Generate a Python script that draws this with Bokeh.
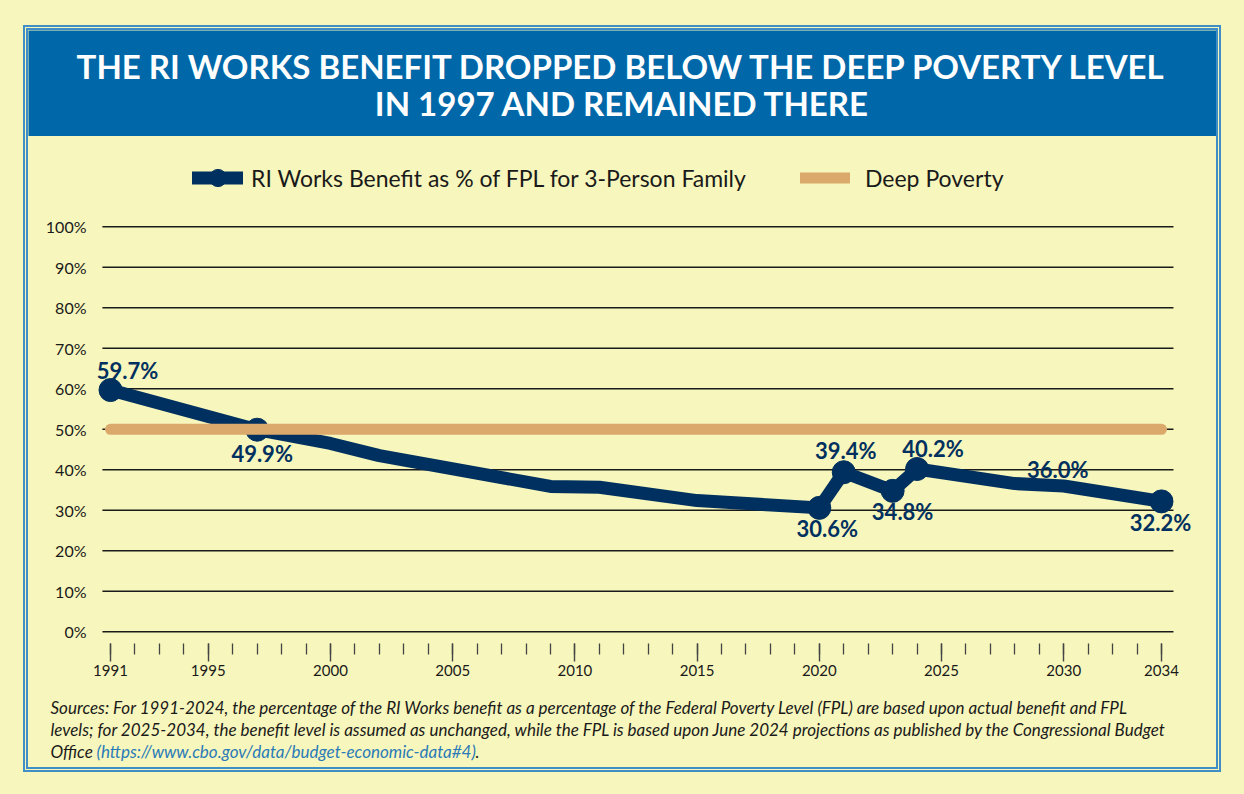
from bokeh.plotting import figure
from bokeh.models import (ColumnDataSource, Range1d, FixedTicker, Legend, LegendItem, LabelSet)
from bokeh.layouts import column
from bokeh.core.properties import value
from bokeh.embed import file_html
from bokeh.resources import INLINE

# ---------------- data ----------------
title_lines = ["THE RI WORKS BENEFIT DROPPED BELOW THE DEEP POVERTY LEVEL",
               "IN 1997 AND REMAINED THERE"]
series_name = "RI Works Benefit as % of FPL for 3-Person Family"
deep_name = "Deep Poverty"

years = [1991, 1997, 2000, 2002, 2009, 2011, 2015, 2020, 2021, 2023, 2024, 2028, 2030, 2034]
benefit = [59.7, 49.9, 46.5, 43.5, 35.9, 35.7, 32.4, 30.6, 39.4, 34.8, 40.2, 36.6, 36.0, 32.2]

marker_years = [1991, 1997, 2020, 2021, 2023, 2024, 2034]
label_years = [1991, 1997, 2020, 2021, 2023, 2024, 2030, 2034]

deep_years = [1991, 2034]
deep_values = [50.0, 50.0]

y_ticks = [0, 10, 20, 30, 40, 50, 60, 70, 80, 90, 100]
y_tick_labels = ["0%", "10%", "20%", "30%", "40%", "50%", "60%", "70%", "80%", "90%", "100%"]
x_major_ticks = [1991, 1995, 2000, 2005, 2010, 2015, 2020, 2025, 2030, 2034]
x_tick_labels = ["1991", "1995", "2000", "2005", "2010", "2015", "2020", "2025", "2030", "2034"]
x_minor_ticks = list(range(1991, 2035))

source_lines = [
    "Sources: For 1991-2024, the percentage of the RI Works benefit as a percentage of the Federal Poverty Level (FPL) are based upon actual benefit and FPL",
    "levels; for 2025-2034, the benefit level is assumed as unchanged, while the FPL is based upon June 2024 projections as published by the Congressional Budget",
    "Office",
]
source_link = "(https://www.cbo.gov/data/budget-economic-data#4)"

# label placement (screen px offsets, +up)
label_dx = [17, 5, 8, 2, 10, 16, -6, -1]
label_dy = [20, -24, -21, 22, -21, 20, 17, -21]

# ---------------- styles ----------------
BG = "#F7F6BC"
BAND = "#0068A8"
BORDER = "#3F8EC6"
NAVY = "#00305F"
TAN = "#DBA96B"
FONT = "Lato"

W = 1188
X_START, X_END = 1990.2635, 2035.432
Y_START, Y_END = -2.89, 122.3
GRID_X0, GRID_X1 = 1990.67, 2034.49   # horizontal extent of the grid lines

# ---------------- title band ----------------
tf = figure(width=W, height=106, x_range=Range1d(0, W), y_range=Range1d(0, 106),
            x_axis_type=None, y_axis_type=None, toolbar_location=None,
            output_backend="svg", min_border=0, outline_line_color=None,
            background_fill_color=BAND, border_fill_color=BAND, frame_align=False)
tf.grid.visible = False
tf.text(x=[W / 2, W / 2], y=[71, 34], text=title_lines, text_align="center",
        text_baseline="middle", text_color="white", text_font=value(FONT),
        text_font_style="bold", text_font_size="33px")

# ---------------- chart ----------------
p = figure(width=W, height=556, x_range=Range1d(X_START, X_END),
           y_range=Range1d(Y_START, Y_END), toolbar_location=None,
           output_backend="svg", min_border_left=64, min_border_right=20,
           min_border_top=0, min_border_bottom=49, outline_line_color=None,
           background_fill_color=BG, border_fill_color=BG, frame_align=False)

src = ColumnDataSource(dict(x=years, y=benefit))
val = dict(zip(years, benefit))
msrc = ColumnDataSource(dict(x=marker_years, y=[val[yv] for yv in marker_years]))
lsrc = ColumnDataSource(dict(x=label_years, y=[val[yv] for yv in label_years],
                             t=[f"{val[yv]:.1f}%" for yv in label_years],
                             dx=label_dx, dy=label_dy))
dsrc = ColumnDataSource(dict(x=deep_years, y=deep_values))

# horizontal grid lines at the y ticks, limited to the plotting extent
p.segment(x0=[GRID_X0] * len(y_ticks), x1=[GRID_X1] * len(y_ticks), y0=y_ticks, y1=y_ticks,
          line_color="#1a1a1a", line_width=1.4, level="underlay")

line_r = p.line("x", "y", source=src, line_color=NAVY, line_width=13,
                line_join="round", line_cap="round")
mark_r = p.scatter("x", "y", source=msrc, size=23, fill_color=NAVY, line_color=NAVY)
deep_r = p.line("x", "y", source=dsrc, line_color=TAN, line_width=11, line_cap="round")
labels = LabelSet(x="x", y="y", text="t", source=lsrc, x_offset="dx", y_offset="dy",
                  text_align="center", text_baseline="middle", text_color=NAVY,
                  text_font=value(FONT), text_font_style="bold", text_font_size="22px")
p.add_layout(labels)

# axes
p.xgrid.visible = False
p.ygrid.visible = False
p.yaxis.ticker = FixedTicker(ticks=y_ticks)
p.yaxis.major_label_overrides = dict(zip(y_ticks, y_tick_labels))
p.yaxis.axis_line_color = None
p.yaxis.major_tick_line_color = None
p.yaxis.minor_tick_line_color = None
p.yaxis.major_label_standoff = 0
p.yaxis.major_label_text_font = FONT
p.yaxis.major_label_text_font_size = "16px"
p.yaxis.major_label_text_color = "#1a1a1a"

p.xaxis.ticker = FixedTicker(ticks=x_major_ticks, minor_ticks=x_minor_ticks)
p.xaxis.major_label_overrides = dict(zip(x_major_ticks, x_tick_labels))
p.xaxis.axis_line_color = None
p.xaxis.major_tick_in = 0
p.xaxis.major_tick_out = 18
p.xaxis.minor_tick_in = 0
p.xaxis.minor_tick_out = 11
p.xaxis.major_tick_line_color = "#444444"
p.xaxis.minor_tick_line_color = "#444444"
p.xaxis.major_tick_line_width = 1.4
p.xaxis.minor_tick_line_width = 1.3
p.xaxis.major_label_standoff = 3
p.xaxis.major_label_text_font = FONT
p.xaxis.major_label_text_font_size = "15px"
p.xaxis.major_label_text_color = "#1a1a1a"

# legends
common = dict(orientation="horizontal", padding=0, margin=0, spacing=0,
              background_fill_alpha=0, border_line_color=None,
              label_text_font=FONT, label_text_font_size="23px",
              label_text_color="#1a1a1a", glyph_height=43, label_height=43)
leg1 = Legend(items=[LegendItem(label=series_name, renderers=[line_r, mark_r])],
              location=(100, 444), glyph_width=51, label_standoff=8, **common)
leg2 = Legend(items=[LegendItem(label=deep_name, renderers=[deep_r])],
              location=(708, 444), glyph_width=50, label_standoff=15, **common)
p.add_layout(leg1)
p.add_layout(leg2)

# ---------------- footer ----------------
FS = "17px"
ff = figure(width=W, height=75, x_range=Range1d(0, W), y_range=Range1d(0, 75),
            x_axis_type=None, y_axis_type=None, toolbar_location=None,
            output_backend="svg", min_border=0, outline_line_color=None,
            background_fill_color=BG, border_fill_color=BG, frame_align=False)
ff.grid.visible = False
ff.text(x=[22, 22, 22], y=[60, 38, 16], text=source_lines, text_align="left",
        text_baseline="middle", text_color="#1a1a1a", text_font=value(FONT),
        text_font_style="italic", text_font_size=FS)
ff.text(x=[68], y=[16], text=[source_link], text_align="left",
        text_baseline="middle", text_color="#2A7BB8", text_font=value(FONT),
        text_font_style="italic", text_font_size=FS)
ff.text(x=[447], y=[16], text=["."], text_align="left",
        text_baseline="middle", text_color="#1a1a1a", text_font=value(FONT),
        text_font_style="italic", text_font_size=FS)

inner = column(tf, p, ff, spacing=0,
               styles={"border": f"5px double {BORDER}", "background-color": BG})
outer = column(inner, spacing=0,
               styles={"background-color": BG, "padding": "25px 23px 22px 23px"})

open("out.html", "w").write(file_html(outer, INLINE))
